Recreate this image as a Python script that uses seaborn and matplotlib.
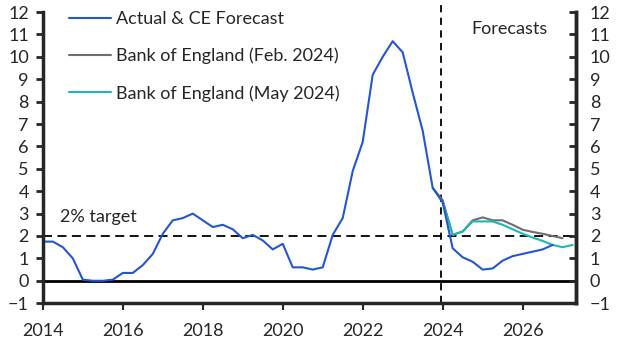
import numpy as np
import pandas as pd
import seaborn as sns
import matplotlib.pyplot as plt

# quarterly CPI inflation, % y/y, starting 2014 Q1
actual = [1.75, 1.75, 1.5, 1.0,
          0.05, 0.0, 0.0, 0.05,
          0.35, 0.35, 0.7, 1.2,
          2.1, 2.7, 2.8, 3.0,
          2.7, 2.4, 2.5, 2.3,
          1.9, 2.05, 1.8, 1.4,
          1.65, 0.6, 0.6, 0.5,
          0.6, 2.05, 2.8, 4.9,
          6.2, 9.2, 10.0, 10.7,
          10.2, 8.4, 6.7, 4.15,
          3.5, 1.45, 1.05, 0.85,
          0.5, 0.55, 0.9, 1.1,
          1.2, 1.3, 1.4, 1.6]
# BoE Feb 2024 projection, from 2023 Q4
boe_feb = [4.15, 3.6, 2.05, 2.2, 2.7, 2.83, 2.7, 2.7, 2.5, 2.28, 2.18, 2.1, 2.0, 1.9]
# BoE May 2024 projection, from 2024 Q1
boe_may = [3.5, 2.05, 2.2, 2.65, 2.65, 2.65, 2.5, 2.3, 2.1, 1.93, 1.78, 1.6, 1.5, 1.6]

t_actual = 2014 + 0.25 * np.arange(len(actual))
t_feb = 2023.75 + 0.25 * np.arange(len(boe_feb))
t_may = 2024.0 + 0.25 * np.arange(len(boe_may))

df = pd.concat([
    pd.DataFrame({'t': t_actual, 'v': actual, 's': 'Actual & CE Forecast'}),
    pd.DataFrame({'t': t_feb, 'v': boe_feb, 's': 'Bank of England (Feb. 2024)'}),
    pd.DataFrame({'t': t_may, 'v': boe_may, 's': 'Bank of England (May 2024)'}),
])

sns.set_style('ticks')
plt.rcParams['font.family'] = ['Lato', 'DejaVu Sans']
FS = 13

fig = plt.figure(figsize=(6.3, 3.55), dpi=100)
ax = fig.add_axes([0.068, 0.146, 0.846, 0.82])

palette = {'Actual & CE Forecast': '#2456d0',
           'Bank of England (Feb. 2024)': '#6e6e6e',
           'Bank of England (May 2024)': '#1db8b0'}
sns.lineplot(data=df, x='t', y='v', hue='s', palette=palette, lw=1.5, ax=ax,
             hue_order=['Bank of England (Feb. 2024)', 'Bank of England (May 2024)', 'Actual & CE Forecast'])

ax.axhline(0, color='black', lw=2, zorder=1)
ax.axhline(2, color='black', lw=1.3, ls=(0, (5, 3)), zorder=1)
# forecast divider runs up to the top of the figure
ax.axvline(2023.95, ymin=0, ymax=1.035, color='black', lw=1.3, ls=(0, (4, 3)),
           zorder=1, clip_on=False)

ax.text(2014.42, 2.62, '2% target', fontsize=FS, va='baseline')
ax.text(2026.62, 11.0, 'Forecasts', fontsize=FS, ha='right', va='baseline')

ax.set_xlim(2014, 2027.33)
ax.set_ylim(-1, 12)
ax.set_xticks([2014, 2016, 2018, 2020, 2022, 2024, 2026])
ax.set_yticks(range(-1, 13))
ax.set_xlabel('')
ax.set_ylabel('')
ax.tick_params(axis='y', left=True, right=False, width=2, length=5,
               labelsize=FS, direction='out', pad=5)
ax.tick_params(axis='x', width=1.5, length=5, labelsize=FS, pad=9)
for side in ['left', 'right', 'bottom']:
    ax.spines[side].set_linewidth(2.5)
    ax.spines[side].set_visible(True)
ax.spines['top'].set_visible(False)

# right axis: same scale, ticks pointing in
ax2 = ax.twinx()
ax2.set_ylim(-1, 12)
ax2.set_yticks(range(-1, 13))
ax2.tick_params(axis='y', width=2, length=5, labelsize=FS, direction='in', pad=10)
ax2.spines['right'].set_linewidth(2.5)
ax2.spines['top'].set_visible(False)
ax2.grid(False)

handles, labels = ax.get_legend_handles_labels()
order = [labels.index(l) for l in palette]
ax.legend([handles[i] for i in order], [labels[i] for i in order],
          loc='upper left', bbox_to_anchor=(0.05, 1.004), frameon=False,
          borderpad=0, borderaxespad=0,
          fontsize=FS, handlelength=2.3, labelspacing=1.15, handletextpad=0.3)

plt.savefig('out.png', dpi=100)
